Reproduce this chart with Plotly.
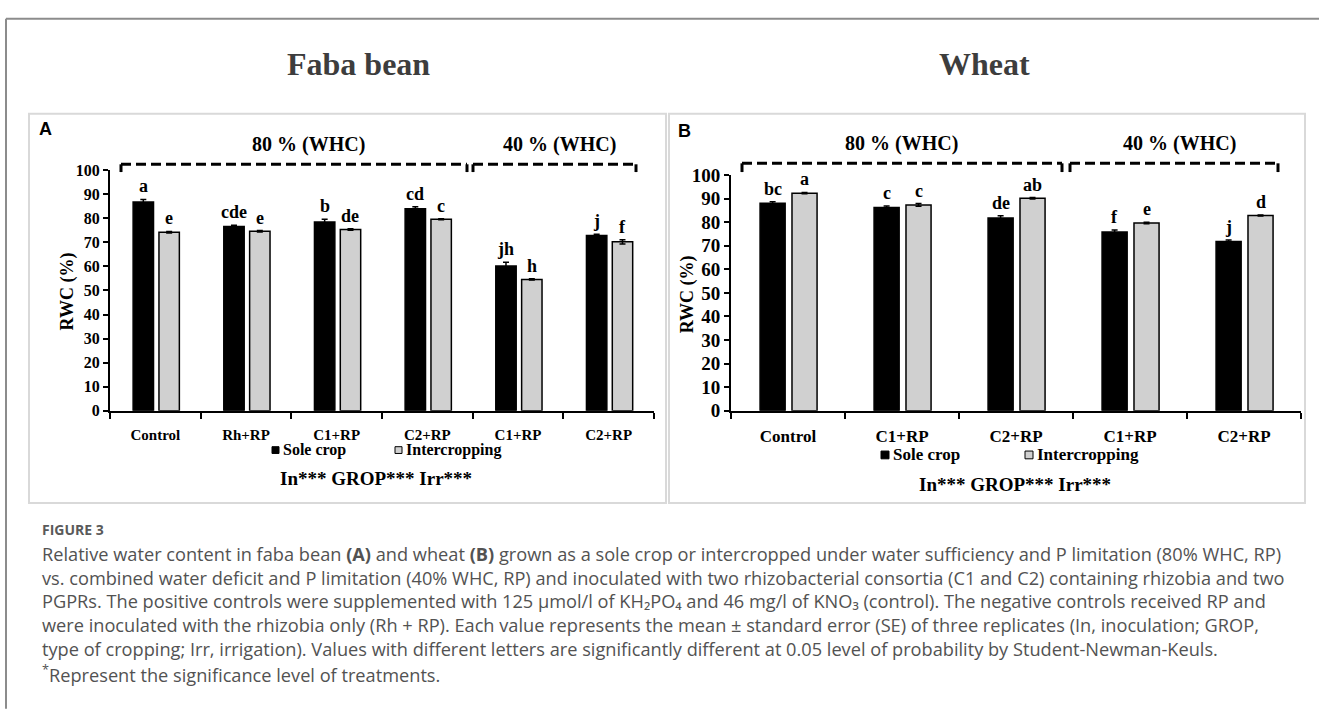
import plotly.graph_objects as go

W, H = 1319, 710


def px(x):
    return x / W


def py(y):
    return 1 - y / H


# ---------------- data ----------------
# Panel A (Faba bean)
cats_a = ["Control", "Rh+RP", "C1+RP", "C2+RP", "C1+RP", "C2+RP"]
sole_a = [86.8, 76.6, 78.4, 84.0, 60.2, 72.8]
sole_a_se = [1.0, 0.5, 1.2, 0.8, 1.5, 0.6]
inter_a = [74.2, 74.6, 75.3, 79.6, 54.6, 70.2]
inter_a_se = [0.3, 0.3, 0.3, 0.2, 0.3, 0.9]
sole_a_letters = ["a", "cde", "b", "cd", "jh", "j"]
inter_a_letters = ["e", "e", "de", "c", "h", "f"]

# Panel B (Wheat)
cats_b = ["Control", "C1+RP", "C2+RP", "C1+RP", "C2+RP"]
sole_b = [88.0, 86.2, 81.7, 75.8, 71.8]
sole_b_se = [0.6, 0.6, 1.0, 0.9, 0.6]
inter_b = [92.3, 87.3, 90.1, 79.6, 82.8]
inter_b_se = [0.3, 0.6, 0.3, 0.3, 0.2]
sole_b_letters = ["bc", "c", "de", "f", "j"]
inter_b_letters = ["a", "c", "ab", "e", "d"]

series_names = ["Sole crop", "Intercropping"]
y_ticks = list(range(0, 101, 10))
# --------------------------------------

SERIF = "Liberation Serif, Times New Roman, serif"
SANS = "Open Sans, Noto Sans, Lato, sans-serif"
BLACK_FILL = "#000000"
GRAY_FILL = "#d0d0d0"
FILLS = [BLACK_FILL, GRAY_FILL]

fig = go.Figure()
annotations = []
shapes = []


def add_panel(cats, sole, sole_se, inter, inter_se, sl, il, xa, ya,
              bw, offs, letter_size):
    xs = list(range(len(cats)))
    for vals, errs, letters, off, col, name in [
        (sole, sole_se, sl, offs[0], FILLS[0], series_names[0]),
        (inter, inter_se, il, offs[1], FILLS[1], series_names[1]),
    ]:
        fig.add_trace(go.Bar(
            x=xs, y=vals, width=bw, offset=off, name=name,
            marker=dict(color=col, line=dict(color="black", width=1.5)),
            error_y=dict(type="data", array=errs, color="black",
                         thickness=1.5, width=3),
            xaxis=xa, yaxis=ya, showlegend=False, hoverinfo="y",
        ))
        for i, (v, e, t) in enumerate(zip(vals, errs, letters)):
            annotations.append(dict(
                x=xs[i] + off + bw / 2, y=v + e, xref=xa, yref=ya,
                text=f"<b>{t}</b>", showarrow=False, yanchor="bottom",
                yshift=1, font=dict(family=SERIF, size=letter_size, color="black"),
            ))


add_panel(cats_a, sole_a, sole_a_se, inter_a, inter_a_se,
          sole_a_letters, inter_a_letters, "x", "y",
          0.225, (-0.245, 0.04), 18)
add_panel(cats_b, sole_b, sole_b_se, inter_b, inter_b_se,
          sole_b_letters, inter_b_letters, "x2", "y2",
          0.22, (-0.245, 0.035), 18)


def xaxis_cfg(cats, dom, fsize):
    n = len(cats)
    return dict(
        domain=[px(dom[0]), px(dom[1])], range=[-0.5, n - 0.5],
        tickmode="array", tickvals=list(range(n)), ticktext=cats,
        ticks="", ticklen=0, ticklabelstandoff=9,
        tickfont=dict(family=SERIF, size=fsize, color="black", weight="bold"),
        showline=True, linecolor="black", linewidth=2,
        showgrid=False, zeroline=False, fixedrange=True,
        minor=dict(tickmode="array", tickvals=[i - 0.5 for i in range(n + 1)],
                   ticks="outside", ticklen=6, tickwidth=2,
                   tickcolor="black", showgrid=False),
    )


def yaxis_cfg(top_px, anchor, fsize):
    return dict(
        domain=[py(413), py(top_px)], range=[0, 100],
        tickmode="array", tickvals=y_ticks,
        ticks="outside", ticklen=5, tickwidth=1.5, tickcolor="black",
        tickfont=dict(family=SERIF, size=fsize, color="black", weight="bold"),
        showline=True, linecolor="black", linewidth=2,
        showgrid=False, zeroline=False, anchor=anchor, fixedrange=True,
    )


# ---- outer frame & panel boxes ----
shapes.append(dict(type="line", xref="paper", yref="paper",
                   x0=px(6), x1=px(6), y0=py(9), y1=py(720),
                   line=dict(color="#8c8c8c", width=2)))
shapes.append(dict(type="line", xref="paper", yref="paper",
                   x0=px(6), x1=px(1330), y0=py(9), y1=py(9),
                   line=dict(color="#8c8c8c", width=2)))
for (l, r) in [(29, 666), (669, 1305)]:
    shapes.append(dict(type="rect", xref="paper", yref="paper",
                       x0=px(l), x1=px(r), y0=py(107), y1=py(508),
                       line=dict(color="#d9d9d9", width=2), layer="below"))


# ---- dashed brackets ----
def bracket(x0, x1, y, ytick):
    shapes.append(dict(type="line", xref="paper", yref="paper",
                       x0=px(x0), x1=px(x1), y0=py(y), y1=py(y),
                       line=dict(color="black", width=3, dash="10px,5px")))
    for xx in (x0, x1):
        shapes.append(dict(type="line", xref="paper", yref="paper",
                           x0=px(xx), x1=px(xx), y0=py(y), y1=py(ytick),
                           line=dict(color="black", width=3)))


bracket(121, 467, 159, 167)
bracket(473, 636, 159, 167)
bracket(742, 1062, 158, 167)
bracket(1070, 1278, 158, 167)


def text(x, y, s, size, family=SERIF, color="black", xanchor="center",
         angle=0, bold=True, yanchor="middle", align="center"):
    annotations.append(dict(
        x=px(x), y=py(y), xref="paper", yref="paper",
        text=(f"<b>{s}</b>" if bold else s), showarrow=False,
        xanchor=xanchor, yanchor=yanchor, textangle=angle, align=align,
        font=dict(family=family, size=size, color=color),
    ))


# ---- manual legends (small square swatches next to the labels) ----
def legend_row(items, y, sw, fsize):
    for (sx, name), fill in zip(items, FILLS):
        shapes.append(dict(type="rect", xref="paper", yref="paper",
                           x0=px(sx), x1=px(sx + sw), y0=py(y + sw / 2 + 0.5),
                           y1=py(y - sw / 2 + 0.5), fillcolor=fill,
                           line=dict(color="black", width=1)))
        text(sx + sw + 2, y, name, fsize, xanchor="left")


legend_row([(272, series_names[0]), (395, series_names[1])], 453, 7, 16)
legend_row([(881, series_names[0]), (1025, series_names[1])], 458, 8, 17)

# titles
text(358, 56, "Faba bean", 32, color="#3d3d3d")
text(984, 56, "Wheat", 32, color="#3d3d3d")
# panel letters
text(37, 123, "A", 18, family="Liberation Sans, Arial, sans-serif", xanchor="left")
text(676, 125, "B", 18, family="Liberation Sans, Arial, sans-serif", xanchor="left")
# WHC labels
text(308, 139, "80 % (WHC)", 20)
text(559, 139, "40 % (WHC)", 20)
text(901, 138, "80 % (WHC)", 20)
text(1179, 138, "40 % (WHC)", 20)
# y-axis titles
text(67, 290, "RWC (%)", 18, angle=-90)
text(687, 293, "RWC (%)", 18, angle=-90)
# significance
text(376, 483, "In*** GROP*** Irr***", 19)
text(1015, 489, "In*** GROP*** Irr***", 19)

# caption
CAP = "#525252"
text(40, 535, "FIGURE 3", 14, family=SANS, color="#5a5a5a", xanchor="left", bold=True)
cap_lines = [
    "Relative water content in faba bean <b>(A)</b> and wheat <b>(B)</b> grown as a sole crop or intercropped under water sufficiency and P limitation (80% WHC, RP)",
    "vs. combined water deficit and P limitation (40% WHC, RP) and inoculated with two rhizobacterial consortia (C1 and C2) containing rhizobia and two",
    "PGPRs. The positive controls were supplemented with 125 \u03bcmol/l of KH\u2082PO\u2084 and 46 mg/l of KNO\u2083 (control). The negative controls received RP and",
    "were inoculated with the rhizobia only (Rh + RP). Each value represents the mean \u00b1 standard error (SE) of three replicates (In, inoculation; GROP,",
    "type of cropping; Irr, irrigation). Values with different letters are significantly different at 0.05 level of probability by Student-Newman-Keuls.",
]
text(40, 546, "<br>".join(cap_lines), 18.2, family=SANS, color=CAP,
     xanchor="left", yanchor="top", align="left", bold=False)
text(40, 668, "<sup>*</sup>Represent the significance level of treatments.", 18.2,
     family=SANS, color=CAP, xanchor="left", yanchor="top", align="left", bold=False)

fig.update_layout(
    width=W, height=H, margin=dict(l=0, r=0, t=0, b=0),
    paper_bgcolor="white", plot_bgcolor="white",
    barmode="overlay", showlegend=False,
    xaxis=xaxis_cfg(cats_a, (110, 654), 15),
    yaxis=yaxis_cfg(165, "x", 16),
    xaxis2=xaxis_cfg(cats_b, (731, 1301), 17),
    yaxis2=yaxis_cfg(170, "x2", 19),
    annotations=annotations, shapes=shapes,
)

fig.write_html("out.html")
